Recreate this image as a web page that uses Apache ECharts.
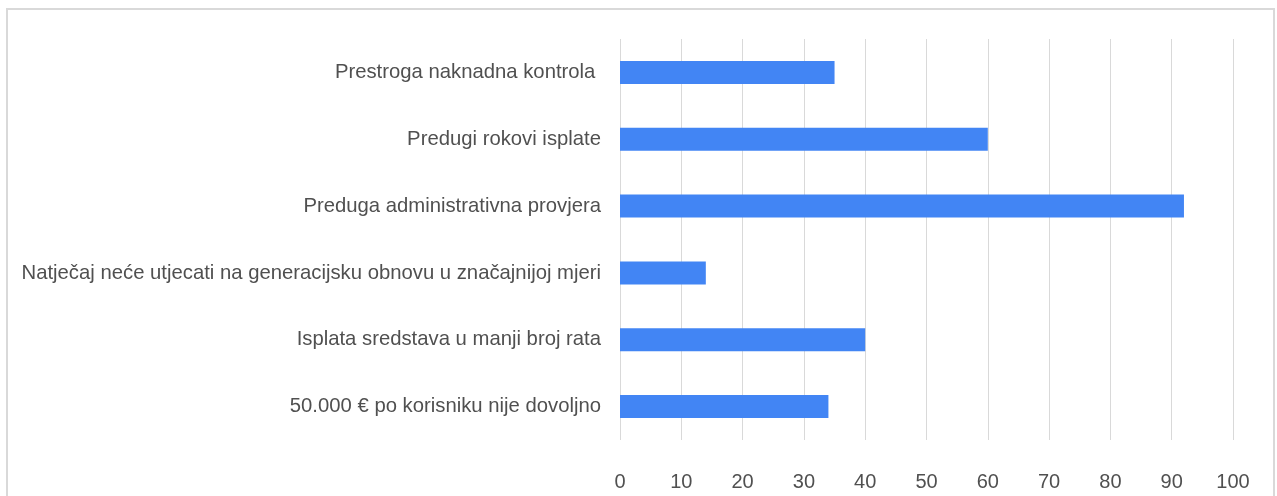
<!DOCTYPE html>
<html>
<head>
<meta charset="utf-8">
<script src="https://cdn.jsdelivr.net/npm/echarts@6/dist/echarts.min.js"></script>
<style>
    html, body { margin: 0; padding: 0; background: #fff; }
    #graph { width: 1277px; height: 496px; }
</style>
</head>
<body>
<div id="graph"></div>
<script>
// kategorije (odozgo prema dolje)
var categories = [
    'Prestroga naknadna kontrola ',
    'Predugi rokovi isplate',
    'Preduga administrativna provjera',
    'Natječaj neće utjecati na generacijsku obnovu u značajnijoj mjeri',
    'Isplata sredstava u manji broj rata',
    '50.000 € po korisniku nije dovoljno'
];
var values = [35, 60, 92, 14, 40, 34];
var axisMin = 0, axisMax = 100, axisStep = 10;

var chart = echarts.init(document.getElementById('graph'));

var option = {
    animation: false,
    textStyle: { fontFamily: 'Liberation Sans, Arial, sans-serif' },
    graphic: [{
        type: 'rect',
        shape: { x: 7, y: 9, width: 1267, height: 520 },
        style: { fill: 'none', stroke: '#d9d9d9', lineWidth: 2 },
        silent: true
    }],
    grid: { left: 620, right: 44, top: 39, bottom: 56 },
    xAxis: {
        type: 'value',
        min: axisMin,
        max: axisMax,
        interval: axisStep,
        axisLine: { show: false },
        axisTick: { show: false },
        splitLine: { lineStyle: { color: '#d9d9d9', width: 1 } },
        axisLabel: { color: '#505050', fontSize: 20, margin: 32 }
    },
    yAxis: {
        type: 'category',
        inverse: true,
        data: categories,
        axisLine: { show: false },
        axisTick: { show: false },
        axisLabel: { color: '#505050', fontSize: 20.3, margin: 19 }
    },
    series: [{
        type: 'bar',
        data: values,
        barWidth: 23,
        itemStyle: { color: '#4285f4' }
    }]
};

chart.setOption(option);
</script>
</body>
</html>
